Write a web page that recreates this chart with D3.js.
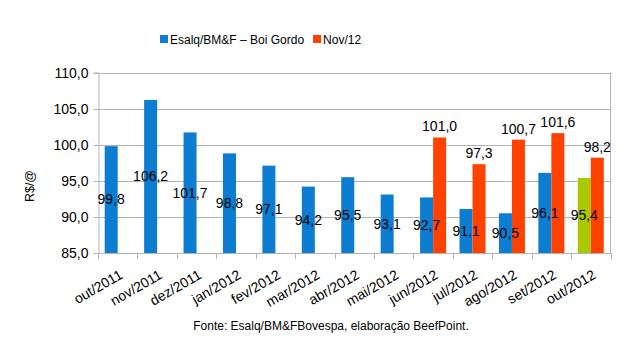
<!DOCTYPE html>
<html><head><meta charset="utf-8">
<script src="https://cdn.jsdelivr.net/npm/d3@7"></script>
<style>body{margin:0;background:#fff}svg{display:block;font-family:"Liberation Sans",Arial,sans-serif}</style>
</head><body><svg id="c" width="637" height="355"></svg>
<script>
const categories=["out/2011","nov/2011","dez/2011","jan/2012","fev/2012","mar/2012","abr/2012","mai/2012","jun/2012","jul/2012","ago/2012","set/2012","out/2012"];
const esalq=[99.8,106.2,101.7,98.8,97.1,94.2,95.5,93.1,92.7,91.1,90.5,96.1,95.4];
const nov12=[null,null,null,null,null,null,null,null,101.0,97.3,100.7,101.6,98.2];
const seriesNames=["Esalq/BM&F – Boi Gordo","Nov/12"];
const yTicks=[85,90,95,100,105,110];
const colors=["#0c7dd0","#ff4200"];
const highlight="#a9c800";

const svg=d3.select("#c");
const m={l:98,r:610.5,t:72.5,b:253};
const x=d3.scaleBand().domain(categories).range([m.l,m.r]).paddingInner(0.34).paddingOuter(0.17);
const x1=d3.scaleBand().domain([0,1]).range([0,x.bandwidth()]);
const y=d3.scaleLinear().domain([85,110]).range([m.b,m.t]);
const fmt=v=>v.toFixed(1).replace(".",",");

// gridlines
svg.append("g").selectAll("line").data(yTicks).join("line")
 .attr("x1",m.l).attr("x2",m.r).attr("y1",d=>Math.round(y(d))+0.5).attr("y2",d=>Math.round(y(d))+0.5)
 .attr("stroke","#b3b3b3");
// right border
svg.append("line").attr("x1",m.r).attr("x2",m.r).attr("y1",m.t).attr("y2",m.b).attr("stroke","#b3b3b3");

// y axis
const ya=svg.append("g").attr("transform",`translate(${m.l+0.5},0)`)
 .call(d3.axisLeft(y).tickValues(yTicks).tickFormat(fmt).tickSize(5).tickPadding(5));
ya.select(".domain").attr("stroke","#b3b3b3");
ya.selectAll(".tick line").attr("stroke","#b3b3b3");
ya.selectAll("text").attr("font-size",14).attr("fill","#000").attr("font-family","Liberation Sans, Arial");
ya.selectAll(".tick").attr("transform",d=>`translate(0,${Math.round(y(d))+0.5})`);

// x axis: ticks at band boundaries
const step=x.step();
const bounds=d3.range(categories.length+1).map(i=>m.l+i*step);
svg.append("line").attr("x1",m.l).attr("x2",m.r).attr("y1",m.b+0.5).attr("y2",m.b+0.5).attr("stroke","#b3b3b3");
svg.append("g").selectAll("line").data(bounds).join("line")
 .attr("x1",d=>Math.round(d)+0.5).attr("x2",d=>Math.round(d)+0.5).attr("y1",m.b).attr("y2",m.b+6).attr("stroke","#b3b3b3");

// bars
const g=svg.append("g");
categories.forEach((c,i)=>{
  [esalq[i],nov12[i]].forEach((v,s)=>{
    if(v==null) return;
    const bx=x(c)+x1(s), bw=x1.bandwidth();
    g.append("rect").attr("x",bx).attr("width",bw).attr("y",y(v)).attr("height",y(85)-y(v))
     .attr("fill",(s===0&&i===categories.length-1)?highlight:colors[s]);
  });
});
// labels
categories.forEach((c,i)=>{
  const v=esalq[i];
  const bx=x(c)+x1(0)+x1.bandwidth()/2;
  g.append("text").attr("x",bx).attr("y",(y(v)+y(85))/2).attr("dy","0.35em").attr("text-anchor","middle")
   .attr("font-size",14).text(fmt(v));
  const w=nov12[i];
  if(w!=null){
    const rx=x(c)+x1(1)+x1.bandwidth()/2;
    g.append("text").attr("x",rx).attr("y",y(w)-6).attr("text-anchor","middle").attr("font-size",14).text(fmt(w));
  }
});

// x labels
svg.append("g").selectAll("text").data(categories).join("text")
 .attr("transform",d=>`translate(${x(d)+x.bandwidth()/2+1},${m.b+16}) rotate(-30)`)
 .attr("text-anchor","end").attr("dy","0.71em").attr("font-size",14).text(d=>d);

// y title
svg.append("text").attr("transform","translate(34,186) rotate(-90)").attr("text-anchor","middle")
 .attr("font-size",12.5).text("R$/@");

// legend (laid out from measured text widths, centred where the reference's legend sits)
const lg=svg.append("g").attr("font-size",12);
let lx=0;
const items=[];
seriesNames.forEach((n,i)=>{
  const it=lg.append("g");
  it.append("rect").attr("x",0).attr("y",-5).attr("width",8).attr("height",8).attr("fill",colors[i]);
  const t=it.append("text").attr("x",10).attr("y",4).text(n);
  const w=10+t.node().getComputedTextLength();
  it.attr("transform",`translate(${lx},40)`);
  lx+=w+9;
});
const total=lx-9;
lg.attr("transform",`translate(${Math.round(261-total/2)},0)`);

// source
svg.append("text").attr("x",331).attr("y",330).attr("text-anchor","middle").attr("font-size",12)
 .text("Fonte: Esalq/BM&FBovespa, elaboração BeefPoint.");
</script></body></html>
